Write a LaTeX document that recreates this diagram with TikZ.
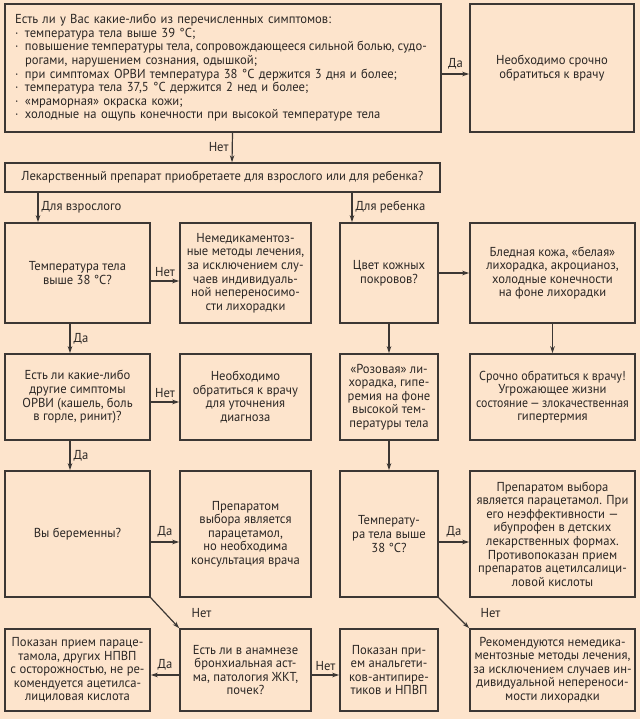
\documentclass[tikz,border=0pt]{standalone}
\usepackage{fontspec}
\setmainfont{PT Sans}[FakeStretch=0.97]
\usetikzlibrary{arrows.meta}
\definecolor{bg}{HTML}{FDE4CC}
\definecolor{ln}{HTML}{3C3734}
\definecolor{tx}{HTML}{2B2725}
\begin{document}
\begin{tikzpicture}[x=1pt,y=-1pt,
  font=\fontsize{13}{13.6}\selectfont,
  box/.style={draw=ln, line width=1.5pt, fill=bg, inner sep=0pt, align=center, text=tx},
  arr/.style={draw=ln, line width=1.2pt, -{Stealth[length=7pt,width=4.5pt]}},
  lab/.style={text=tx, inner sep=1pt}]
\fill[bg] (0,0) rectangle (640,719);
\useasboundingbox (0,0) rectangle (640,719);

% top row
\node[box, minimum width=436pt, minimum height=128pt, text width=416pt, align=left] (top) at (223,68) {%
Есть ли у Вас какие-либо из перечисленных симптомов:\\
\makebox[10pt][l]{·}температура тела выше 39 °C;\\
\makebox[10pt][l]{·}{\spaceskip=3pt plus 1fil\xspaceskip=3pt plus 1fil\hbox to 400pt{повышение температуры тела, сопровождающееся сильной болью, судо-}}\\
\hspace*{10pt}рогами, нарушением сознания, одышкой;\\
\makebox[10pt][l]{·}при симптомах ОРВИ температура 38 °C держится 3 дня и более;\\
\makebox[10pt][l]{·}температура тела 37,5 °C держится 2 нед и более;\\
\makebox[10pt][l]{·}«мраморная» окраска кожи;\\
\makebox[10pt][l]{·}холодные на ощупь конечности при высокой температуре тела};
\node[box, minimum width=164pt, minimum height=128pt] (urg) at (552,68) {Необходимо срочно\\обратиться к врачу};

\node[box, minimum width=435pt, minimum height=29pt] (q) at (222.5,177.5) {Лекарственный препарат приобретаете для взрослого или для ребенка?};

% row 2
\node[box, minimum width=145pt, minimum height=100pt] (a2) at (77.5,273) {Температура тела\\выше 38 °C?};
\node[box, minimum width=131pt, minimum height=100pt] (b2) at (245.5,273) {Немедикаментоз-\\ные методы лечения,\\за исключением слу-\\чаев индивидуаль-\\ной непереносимо-\\сти лихорадки};
\node[box, minimum width=98pt, minimum height=100pt] (c2) at (389,273) {Цвет кожных\\покровов?};
\node[box, minimum width=165pt, minimum height=100pt] (d2) at (552.5,273) {Бледная кожа, «белая»\\лихорадка, акроцианоз,\\холодные конечности\\на фоне лихорадки};

% row 3
\node[box, minimum width=145pt, minimum height=86pt] (a3) at (77.5,397) {Есть ли какие-либо\\другие симптомы\\ОРВИ (кашель, боль\\в горле, ринит)?};
\node[box, minimum width=131pt, minimum height=86pt] (b3) at (245.5,397) {Необходимо\\обратиться к врачу\\для уточнения\\диагноза};
\node[box, minimum width=98pt, minimum height=86pt] (c3) at (389,397) {«Розовая» ли-\\хорадка, гипе-\\ремия на фоне\\высокой тем-\\пературы тела};
\node[box, minimum width=165pt, minimum height=86pt] (d3) at (552.5,397) {{\addfontfeature{FakeStretch=0.93}Срочно обратиться к врачу!}\\Угрожающее жизни\\{\addfontfeature{FakeStretch=0.91}состояние\,—\,злокачественная}\\гипертермия};

% row 4
\node[box, minimum width=145pt, minimum height=126pt] (a4) at (77.5,534) {Вы беременны?};
\node[box, minimum width=131pt, minimum height=126pt] (b4) at (245.5,534) {Препаратом\\выбора является\\парацетамол,\\но необходима\\консультация врача};
\node[box, minimum width=98pt, minimum height=126pt] (c4) at (389,534) {Температу-\\ра тела выше\\38 °C?};
\node[box, minimum width=165pt, minimum height=126pt] (d4) at (552.5,534) {Препаратом выбора\\является парацетамол. При\\его неэффективности —\\ибупрофен в детских\\лекарственных формах.\\Противопоказан прием\\препаратов ацетилсалици-\\ловой кислоты};

% row 5
\node[box, minimum width=145pt, minimum height=82pt] (a5) at (77.5,670) {Показан прием параце-\\тамола, других НПВП\\с осторожностью, не ре-\\комендуется ацетилса-\\лициловая кислота};
\node[box, minimum width=131pt, minimum height=82pt] (b5) at (245.5,670) {Есть ли в анамнезе\\бронхиальная аст-\\ма, патология ЖКТ,\\почек?};
\node[box, minimum width=98pt, minimum height=82pt] (c5) at (389,670) {Показан при-\\ем анальгети-\\ков-антипире-\\тиков и НПВП};
\node[box, minimum width=165pt, minimum height=82pt] (d5) at (552.5,670) {Рекомендуются немедика-\\ментозные методы лечения,\\за исключением случаев ин-\\дивидуальной непереноси-\\мости лихорадки};

% connectors
\draw[arr] ([yshift=-6pt]top.east) -- node[lab, above=3pt] {Да} ([yshift=-6pt]urg.west);
\draw[arr] ([xshift=9.5pt]top.south) -- node[lab, left=2pt] {Нет} ([xshift=9.5pt]q.north);
\draw[arr] ([xshift=-39.5pt]a2.north |- q.south) -- node[lab, right=2pt] {Для взрослого} ([xshift=-39.5pt]a2.north);
\draw[arr] ([xshift=-37pt]c2.north |- q.south) -- node[lab, right=2pt] {Для ребенка} ([xshift=-37pt]c2.north);

\draw[arr] ([yshift=-8pt]a2.east) -- node[lab, above=3pt] {Нет} ([yshift=-8pt]b2.west);
\draw[arr] (c2.east) -- (d2.west);
\draw[arr] ([xshift=-7.5pt]a2.south) -- node[lab, right=2pt] {Да} ([xshift=-7.5pt]a3.north);
\draw[arr] (c2.south) -- (c3.north);
\draw[arr] (d2.south) -- (d3.north);

\draw[arr] ([yshift=-5pt]a3.east) -- node[lab, above=3pt] {Нет} ([yshift=-5pt]b3.west);
\draw[arr] ([xshift=-7.5pt]a3.south) -- node[lab, right=2pt] {Да} ([xshift=-7.5pt]a4.north);
\draw[arr] (c3.south) -- (c4.north);

\draw[arr] ([yshift=-8pt]a4.east) -- node[lab, above=3pt] {Да} ([yshift=-8pt]b4.west);
\draw[arr] ([yshift=-8pt]c4.east) -- node[lab, above=3pt] {Да} ([yshift=-8pt]d4.west);
\draw[arr] (a4.south east) -- node[lab, anchor=west, xshift=25pt] {Нет} (b5.north west);
\draw[arr] (c4.south east) -- node[lab, anchor=west, xshift=25pt] {Нет} (d5.north west);

\draw[arr] ([yshift=-5pt]b5.west) -- node[lab, above=3pt] {Да} ([yshift=-5pt]a5.east);
\draw[arr] ([yshift=-5pt]b5.east) -- node[lab, above=3pt] {Нет} ([yshift=-5pt]c5.west);
\end{tikzpicture}
\end{document}
